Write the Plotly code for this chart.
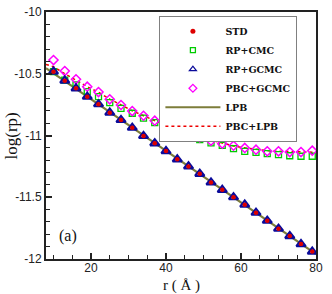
import plotly.graph_objects as go

r = [10, 13, 16, 19, 22, 25, 28, 31, 34, 37, 40, 43, 46, 49, 52, 55, 58, 61, 64, 67, 70, 73, 76, 79]

std = [-10.483, -10.556, -10.618, -10.686, -10.747, -10.815, -10.874, -10.937, -11.004, -11.063,
       -11.126, -11.193, -11.250, -11.310, -11.380, -11.440, -11.500, -11.560, -11.625, -11.690,
       -11.755, -11.814, -11.879, -11.940]
rp_gcmc = [-10.483, -10.556, -10.618, -10.686, -10.747, -10.815, -10.874, -10.937, -11.004, -11.063,
           -11.126, -11.193, -11.250, -11.310, -11.380, -11.440, -11.500, -11.560, -11.625, -11.690,
           -11.755, -11.814, -11.879, -11.940]
rp_cmc = [-10.483, -10.552, -10.590, -10.645, -10.686, -10.734, -10.780, -10.820, -10.860, -10.896,
          -10.934, -10.980, -11.006, -11.034, -11.060, -11.080, -11.107, -11.128, -11.136, -11.147,
          -11.155, -11.164, -11.168, -11.168]
pbc_gcmc = [-10.389, -10.478, -10.545, -10.605, -10.648, -10.707, -10.753, -10.802, -10.840, -10.880,
            -10.917, -10.961, -10.993, -11.015, -11.042, -11.066, -11.083, -11.101, -11.115, -11.128,
            -11.128, -11.134, -11.134, -11.123]

r_lpb = [8, 80]
lpb = [-10.455, -11.960]

r_pbc_lpb = [8, 10, 13, 16, 19, 22, 25, 28, 31, 34, 37, 40, 43, 46, 49, 52, 55, 58, 61, 64, 67, 70, 73, 76, 79, 80]
pbc_lpb = [-10.424, -10.443, -10.500, -10.555, -10.605, -10.650, -10.705, -10.752, -10.800, -10.840,
           -10.880, -10.917, -10.958, -10.990, -11.015, -11.040, -11.065, -11.085, -11.100, -11.113,
           -11.123, -11.128, -11.132, -11.134, -11.135, -11.135]

x_ticks = [20, 40, 60, 80]
y_ticks = [-12, -11.5, -11, -10.5, -10]
y_tick_text = ["-12", "-11.5", "-11", "-10.5", "-10"]

C_STD = "#dd0000"
C_CMC = "#00cc00"
C_GCMC = "#0a0a9a"
C_PBC = "#ff00ff"
C_LPB = "#7d7d3a"
C_PLPB = "#ee0000"

SERIF = "Liberation Serif, Times New Roman, serif"
SANS = "Liberation Sans, Arial, sans-serif"

fig = go.Figure()

# data traces (legend handled by separate entries below)
fig.add_trace(go.Scatter(x=r_lpb, y=lpb, mode="lines", showlegend=False,
                         line=dict(color=C_LPB, width=2)))
fig.add_trace(go.Scatter(x=r_pbc_lpb, y=pbc_lpb, mode="lines", showlegend=False,
                         line=dict(color=C_PLPB, width=1.5, dash="dot")))
fig.add_trace(go.Scatter(x=r, y=rp_cmc, mode="markers", showlegend=False,
                         marker=dict(symbol="square-open", size=6, color=C_CMC,
                                     line=dict(width=1.3, color=C_CMC))))
fig.add_trace(go.Scatter(x=r, y=pbc_gcmc, mode="markers", showlegend=False,
                         marker=dict(symbol="diamond-open", size=7, color=C_PBC,
                                     line=dict(width=1.5, color=C_PBC))))
fig.add_trace(go.Scatter(x=r, y=rp_gcmc, mode="markers", showlegend=False,
                         marker=dict(symbol="triangle-up-open", size=8, color=C_GCMC,
                                     line=dict(width=2.2, color=C_GCMC))))
fig.add_trace(go.Scatter(x=r, y=std, mode="markers", showlegend=False,
                         marker=dict(symbol="circle", size=4.5, color=C_STD)))

# legend entries
fig.add_trace(go.Scatter(x=[None], y=[None], mode="markers", name="STD",
                         marker=dict(symbol="circle", size=5, color=C_STD)))
fig.add_trace(go.Scatter(x=[None], y=[None], mode="markers", name="RP+CMC",
                         marker=dict(symbol="square-open", size=5, color=C_CMC, line=dict(width=1.3, color=C_CMC))))
fig.add_trace(go.Scatter(x=[None], y=[None], mode="markers", name="RP+GCMC",
                         marker=dict(symbol="triangle-up-open", size=6, color=C_GCMC, line=dict(width=1.3, color=C_GCMC))))
fig.add_trace(go.Scatter(x=[None], y=[None], mode="markers", name="PBC+GCMC",
                         marker=dict(symbol="diamond-open", size=6, color=C_PBC, line=dict(width=1.3, color=C_PBC))))
fig.add_trace(go.Scatter(x=[None], y=[None], mode="lines", name="LPB",
                         line=dict(color=C_LPB, width=2)))
fig.add_trace(go.Scatter(x=[None], y=[None], mode="lines", name="PBC+LPB",
                         line=dict(color=C_PLPB, width=1.5, dash="dot")))

axis_common = dict(
    showline=True, linecolor="#222222", linewidth=2, mirror=True,
    ticks="inside", ticklen=6, tickwidth=1.5, tickcolor="#222222",
    showgrid=False, zeroline=False, automargin=False,
    tickfont=dict(family=SANS, size=12, color="#222222"),
)

fig.update_xaxes(range=[8, 80], tickvals=x_ticks, ticktext=[str(v) for v in x_ticks],
                 ticklabelstandoff=-3,
                 minor=dict(ticks="inside", ticklen=4, dtick=5, tick0=0, tickcolor="#222222", tickwidth=1),
                 **axis_common)
fig.update_yaxes(range=[-12, -10], tickvals=y_ticks, ticktext=y_tick_text,
                 minor=dict(ticks="inside", ticklen=4, dtick=0.1, tick0=-12, tickcolor="#222222", tickwidth=1),
                 **axis_common)

# axis titles
fig.add_annotation(x=0.5, y=-0.106, xref="paper", yref="paper", text="r ( Å )", showarrow=False,
                   xanchor="center", yanchor="middle",
                   font=dict(family=SERIF, size=15, color="#111111"))
fig.add_annotation(x=-0.126, y=0.5, xref="paper", yref="paper", text="log(rp)", showarrow=False,
                   textangle=-90, xanchor="center", yanchor="middle",
                   font=dict(family=SERIF, size=17, color="#111111"))

fig.add_annotation(x=13.8, y=-11.81, text="(a)", showarrow=False, xref="x", yref="y",
                   font=dict(family=SERIF, size=16, color="#111111"))

fig.update_layout(
    template="none",
    width=332, height=294,
    margin=dict(l=46, r=16, t=12, b=35),
    plot_bgcolor="white", paper_bgcolor="white",
    legend=dict(x=0.42, y=0.985, xanchor="left", yanchor="top",
                bgcolor="white", bordercolor="#808080", borderwidth=1,
                itemwidth=55, tracegroupgap=0,
                font=dict(family="DejaVu Serif, serif", size=9.5, color="#111111", weight="bold")),
    showlegend=True,
)

# remove the default 8px page margin so the figure sits at the window's top-left corner
fig.write_html("out.html", config={"displayModeBar": False},
               post_script="document.body.style.margin='0';document.body.style.padding='0';")
